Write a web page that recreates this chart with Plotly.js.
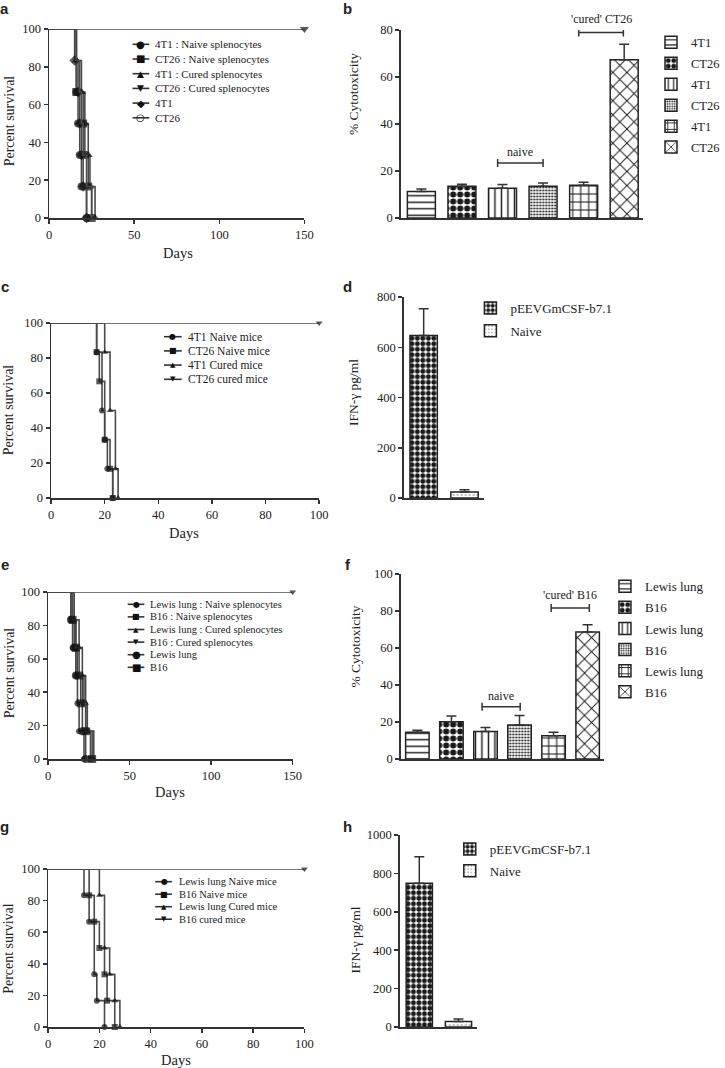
<!DOCTYPE html>
<html><head><meta charset="utf-8">
<script src="https://cdn.plot.ly/plotly-3.0.1.min.js"></script>
<style>html,body{margin:0;padding:0;background:#fff;} #chart{width:725px;height:1068px;}</style>
</head><body><div id="chart"></div>
<script>
// ---------- DATA ----------
// Panel a: survival (days / percent survival)
const survA_labels = ["4T1 : Naive splenocytes","CT26 : Naive splenocytes","4T1 : Cured splenocytes","CT26 : Cured splenocytes","4T1","CT26"];
const survA_days = [[0,16,17,18,19,22],[0,16,20,21,23,25],[0,16,19,21,23,24,27],[0,150],[0,15,17,18,19,20,22],[0,16,18,19,20,22,25]];
const survA_pct  = [[100,66.67,50,33.33,16.67,0],[100,66.67,50,33.33,16.67,0],[100,83.33,66.67,50,33.33,16.67,0],[100,100],[100,83.33,66.67,50,33.33,16.67,0],[100,83.33,66.67,50,33.33,16.67,0]];
// Panel c
const survC_labels = ["4T1 Naive mice","CT26 Naive mice","4T1 Cured mice","CT26 cured mice"];
const survC_days = [[0,17,19,20,21,23],[0,17,18,20,22,23],[0,20,22,24,25],[0,100]];
const survC_pct  = [[100,83.33,50,33.33,16.67,0],[100,83.33,66.67,33.33,16.67,0],[100,83.33,50,16.67,0],[100,100]];
// Panel e
const survE_labels = ["Lewis lung : Naive splenocytes","B16 : Naive splenocytes","Lewis lung : Cured splenocytes","B16 : Cured splenocytes","Lewis lung","B16"];
const survE_days = [[0,14,15,17,18,19,22],[0,15,17,18,22,24,26],[0,16,19,21,23,24,28],[0,150],[0,14,16,17,21,23],[0,15,17,19,20,23,27]];
const survE_pct  = [[100,83.33,66.67,50,33.33,16.67,0],[100,83.33,66.67,50,33.33,16.67,0],[100,83.33,66.67,50,33.33,16.67,0],[100,100],[100,83.33,66.67,50,16.67,0],[100,83.33,66.67,50,33.33,16.67,0]];
// Panel g
const survG_labels = ["Lewis lung Naive mice","B16 Naive mice","Lewis lung Cured mice","B16 cured mice"];
const survG_days = [[0,14,16,18,19,22],[0,16,18,20,22,23,26],[0,20,22,24,26,28],[0,100]];
const survG_pct  = [[100,83.33,66.67,33.33,16.67,0],[100,83.33,66.67,50,33.33,16.67,0],[100,83.33,50,33.33,16.67,0],[100,100]];
// Panel b: % cytotoxicity
const cytoB_labels = ["4T1","CT26","4T1","CT26","4T1","CT26"];
const cytoB_mean = [11.3,13.5,12.7,13.5,13.9,67.3];
const cytoB_err  = [1.0,0.9,1.6,1.4,1.3,6.6];
const bracketB_text = ["naive","'cured' CT26"];
const bracketB_from = [1.88,3.88];
const bracketB_to   = [3.0,4.98];
const bracketB_y    = [23.4,78.9];
// Panel d: IFN-gamma
const ifnD_labels = ["pEEVGmCSF-b7.1","Naive"];
const ifnD_mean = [647,24];
const ifnD_err  = [106,9];
// Panel f
const cytoF_labels = ["Lewis lung","B16","Lewis lung","B16","Lewis lung","B16"];
const cytoF_mean = [14.4,20.2,14.8,18.4,12.6,68.6];
const cytoF_err  = [1.1,3.1,2.2,5.1,1.8,4.0];
const bracketF_text = ["naive","'cured' B16"];
const bracketF_from = [1.9,3.93];
const bracketF_to   = [3.02,5.05];
const bracketF_y    = [28.3,81.6];
// Panel h
const ifnH_labels = ["pEEVGmCSF-b7.1","Naive"];
const ifnH_mean = [749,29];
const ifnH_err  = [138,13];

// ---------- STYLE ----------
const W = 725, H = 1068;
const SERIF = "Liberation Serif, Times New Roman, serif";
const INK = "#222";
const PX = x => x / W;
const PY = y => 1 - y / H;
const dom = (a, b) => [a / W, b / W];
const domY = (top, bot) => [1 - bot / H, 1 - top / H];

const traces = [];
const annotations = [];
const shapes = [];

function axisBase(extra) {
  return Object.assign({
    showline: true, linewidth: 1.5, linecolor: "#333",
    ticks: "outside", ticklen: 4, tickwidth: 1.5, tickcolor: "#333",
    showgrid: false, zeroline: false, fixedrange: true,
    tickfont: {family: SERIF, size: 12.5, color: INK}
  }, extra);
}

// survival styles
const survSymbols6 = ["circle","square","triangle-up","triangle-down","diamond","circle-open"];
const survSymbols6e = ["circle","square","triangle-up","triangle-down","circle","square"];
const survSymbols4 = ["circle","square","triangle-up","triangle-down"];
const glyphMap = {"circle":"●","square":"■","triangle-up":"▲","triangle-down":"▼","diamond":"◆","circle-open":"○"};

function addSurvival(days, pct, labels, symbols, sizes, xa, ya, leg) {
  days.forEach((d, i) => {
    const open = symbols[i].endsWith("open");
    traces.push({
      type: "scatter", mode: "lines+markers", x: d, y: pct[i],
      xaxis: xa, yaxis: ya, showlegend: false, cliponaxis: false,
      line: {shape: "hv", color: "#4a4a4a", width: 1.6},
      marker: {symbol: symbols[i], size: d.map((v, j) => j === 0 ? 0 : sizes[i]),
               color: open ? "rgba(0,0,0,0)" : "#111",
               line: {width: open ? 2 : 0, color: "#111"}}
    });
    // manual legend entry
    const ry = leg.y0 + i * leg.dy;
    shapes.push({type: "line", xref: "paper", yref: "paper",
      x0: PX(leg.lx0), x1: PX(leg.lx1), y0: PY(ry), y1: PY(ry),
      line: {color: "#333", width: 1.6}});
    annotations.push({xref: "paper", yref: "paper", x: PX(leg.mx), y: PY(ry),
      text: glyphMap[symbols[i]], showarrow: false, xanchor: "center", yanchor: "middle",
      font: {family: "DejaVu Sans", size: leg.gs[i], color: "#111"}});
    annotations.push({xref: "paper", yref: "paper", x: PX(leg.tx), y: PY(ry),
      text: labels[i], showarrow: false, xanchor: "left", yanchor: "middle",
      font: {family: SERIF, size: leg.fs, color: INK}});
  });
}

addSurvival(survA_days, survA_pct, survA_labels, survSymbols6, [8,8,8,8,8,7], "x", "y",
  {y0: 44.3, dy: 14.7, lx0: 135, lx1: 152, mx: 143.5, tx: 156, fs: 11, gs: [10,10,9,9,10,10]});
addSurvival(survC_days, survC_pct, survC_labels, survSymbols4, [6,6,6,6], "x3", "y3",
  {y0: 336.7, dy: 14.2, lx0: 167, lx1: 185, mx: 176, tx: 189, fs: 11.5, gs: [8,8,7,7]});
addSurvival(survE_days, survE_pct, survE_labels, survSymbols6e, [6,6,6,6,8,8], "x5", "y5",
  {y0: 604.3, dy: 12.6, lx0: 130, lx1: 147, mx: 138.5, tx: 151, fs: 10.5, gs: [8,8,7,7,10,10]});
addSurvival(survG_days, survG_pct, survG_labels, survSymbols4, [6,6,6,6], "x7", "y7",
  {y0: 881.7, dy: 12.5, lx0: 158, lx1: 175, mx: 167, tx: 180, fs: 10.5, gs: [8,8,7,7]});

// bar patterns
const patCyto = [
  {shape: "-", size: 6.5, solidity: 0.22},
  {shape: ".", size: 7, solidity: 0.6},
  {shape: "|", size: 6.5, solidity: 0.22},
  {shape: ".", size: 3, solidity: 0.4},
  {shape: "+", size: 8, solidity: 0.25},
  {shape: "x", size: 10, solidity: 0.18}
];
const patIfn = [
  {shape: ".", size: 5.5, solidity: 0.62},
  {shape: ".", size: 4, solidity: 0.12}
];

function addBars(labels, mean, err, pats, width, xa, ya, legendId, fgNaive) {
  labels.forEach((lab, i) => {
    traces.push({
      type: "bar", x: [i], y: [mean[i]], name: lab, width: width,
      xaxis: xa, yaxis: ya, legend: legendId, legendgroup: legendId + "_" + i,
      showlegend: true, cliponaxis: false,
      marker: {color: "white", line: {color: "#222", width: 1.5},
        pattern: Object.assign({fgcolor: (fgNaive && i === 1) ? "#666" : "#1a1a1a", bgcolor: "white", fillmode: "replace"}, pats[i])},
      error_y: {type: "data", symmetric: false, array: [err[i]], arrayminus: [0],
        color: "#333", thickness: 1.5, width: 5}
    });
  });
}
addBars(cytoB_labels, cytoB_mean, cytoB_err, patCyto, 0.69, "x2", "y2", "legend", false);
addBars(ifnD_labels, ifnD_mean, ifnD_err, patIfn, 0.67, "x4", "y4", "legend2", true);
addBars(cytoF_labels, cytoF_mean, cytoF_err, patCyto, 0.69, "x6", "y6", "legend3", false);
addBars(ifnH_labels, ifnH_mean, ifnH_err, patIfn, 0.67, "x8", "y8", "legend4", true);

function addBrackets(texts, from, to, ys, shifts, xa, ya) {
  texts.forEach((t, i) => {
    shapes.push({type: "line", xref: xa, yref: ya, x0: from[i], x1: to[i], y0: ys[i], y1: ys[i], line: {color: "#333", width: 1.5}});
    [from[i], to[i]].forEach(xx => shapes.push({type: "line", xref: xa, yref: ya, x0: xx, x1: xx,
      ysizemode: "pixel", yanchor: ys[i], y0: -4, y1: 4, line: {color: "#333", width: 1.5}}));
    annotations.push({xref: xa, yref: ya, x: (from[i] + to[i]) / 2, y: ys[i], yshift: shifts[i], text: t, showarrow: false,
      xanchor: "center", yanchor: "middle", font: {family: SERIF, size: 12, color: INK}});
  });
}
addBrackets(bracketB_text, bracketB_from, bracketB_to, bracketB_y, [11, 13.7], "x2", "y2");
addBrackets(bracketF_text, bracketF_from, bracketF_to, bracketF_y, [11, 12.7], "x6", "y6");

// titles and panel letters
function txt(x, y, text, size, angle, family) {
  annotations.push({xref: "paper", yref: "paper", x: PX(x), y: PY(y), text: text, showarrow: false,
    xanchor: "center", yanchor: "middle", textangle: angle || 0,
    font: {family: family || SERIF, size: size, color: INK}});
}
txt(9.5, 121, "Percent survival", 14, -90);
txt(9.5, 410, "Percent survival", 14, -90);
txt(9.5, 673, "Percent survival", 14, -90);
txt(8, 948, "Percent survival", 14, -90);
txt(181, 253, "Days", 14.5);
txt(187, 533, "Days", 14.5);
txt(173, 792, "Days", 14.5);
txt(179, 1060, "Days", 14.5);
txt(360.5, 94, "% Cytotoxicity", 13.5, -90);
txt(360.5, 393, "IFN-γ pg/ml", 13.5, -90);
txt(361, 647, "% Cytotoxicity", 13.5, -90);
txt(361, 940, "IFN-γ pg/ml", 13.5, -90);
const letters = [["a",5,9],["b",354,9],["c",5,286],["d",354,286],["e",5,564],["f",354,564],["g",5,826],["h",354,826]];
letters.forEach(l => txt(l[1], l[2], "<b>" + l[0] + "</b>", 15, 0, "Liberation Sans, Arial, sans-serif"));

function legendBox(xpx, ypx, gap, fs) {
  return {x: PX(xpx), y: PY(ypx), xanchor: "left", yanchor: "top", bgcolor: "rgba(0,0,0,0)",
    font: {family: SERIF, size: fs || 13, color: INK}, tracegroupgap: gap, traceorder: "grouped", itemwidth: 30};
}

const layout = {
  width: W, height: H, margin: {l: 0, r: 0, t: 0, b: 0},
  paper_bgcolor: "white", plot_bgcolor: "white", barmode: "overlay",
  font: {family: SERIF, color: INK},
  // survival panels
  xaxis:  axisBase({domain: dom(50, 310), range: [0, 150], dtick: 50, anchor: "y"}),
  yaxis:  axisBase({domain: domY(29, 218), range: [0, 100], dtick: 20, anchor: "x"}),
  xaxis3: axisBase({domain: dom(52, 325), range: [0, 100], dtick: 20, anchor: "y3"}),
  yaxis3: axisBase({domain: domY(323, 498), range: [0, 100], dtick: 20, anchor: "x3"}),
  xaxis5: axisBase({domain: dom(49, 298), range: [0, 150], dtick: 50, anchor: "y5"}),
  yaxis5: axisBase({domain: domY(592, 759), range: [0, 100], dtick: 20, anchor: "x5"}),
  xaxis7: axisBase({domain: dom(49, 310), range: [0, 100], dtick: 20, anchor: "y7"}),
  yaxis7: axisBase({domain: domY(869, 1027), range: [0, 100], dtick: 20, anchor: "x7"}),
  // bar panels
  xaxis2: axisBase({domain: dom(408, 655), range: [-0.51, 5.47], showticklabels: false, ticks: "", anchor: "y2"}),
  yaxis2: axisBase({domain: domY(30, 218), range: [0, 80], dtick: 20, anchor: "x2"}),
  xaxis4: axisBase({domain: dom(411, 493), range: [-0.49, 1.48], showticklabels: false, ticks: "", anchor: "y4"}),
  yaxis4: axisBase({domain: domY(297, 498), range: [0, 800], dtick: 200, anchor: "x4"}),
  xaxis6: axisBase({domain: dom(408, 615), range: [-0.49, 5.48], showticklabels: false, ticks: "", anchor: "y6"}),
  yaxis6: axisBase({domain: domY(574, 759), range: [0, 100], dtick: 20, anchor: "x6"}),
  xaxis8: axisBase({domain: dom(407, 486), range: [-0.5, 1.48], showticklabels: false, ticks: "", anchor: "y8"}),
  yaxis8: axisBase({domain: domY(835, 1027), range: [0, 1000], dtick: 200, anchor: "x8"}),
  legend:  legendBox(663, 27.7, 1.7, 12.5),
  legend2: legendBox(479, 293, 3),
  legend3: legendBox(616, 571.3, 1.2),
  legend4: legendBox(458, 834, 2),
  annotations: annotations,
  shapes: shapes
};

Plotly.newPlot("chart", traces, layout, {displayModeBar: false, staticPlot: true});
</script></body></html>
